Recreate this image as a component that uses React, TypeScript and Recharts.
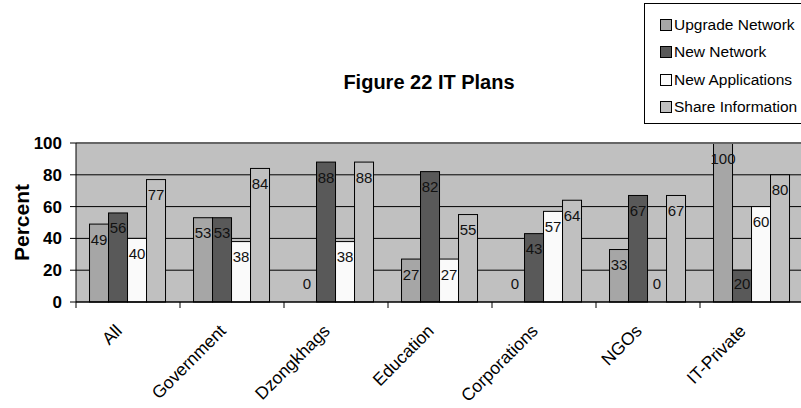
import React from 'react';
import { BarChart, Bar, XAxis, YAxis, CartesianGrid, ReferenceLine } from 'recharts';

const categories = ['All', 'Government', 'Dzongkhags', 'Education', 'Corporations', 'NGOs', 'IT-Private'];
const upgradeNetwork = [49, 53, 0, 27, 0, 33, 100];
const newNetwork = [56, 53, 88, 82, 43, 67, 20];
const newApplications = [40, 38, 38, 27, 57, 0, 60];
const shareInformation = [77, 84, 88, 55, 64, 67, 80];
const yTicks = [0, 20, 40, 60, 80, 100];

const FONT = 'Arial, "Liberation Sans", sans-serif';

const series = [
  { key: 'upgrade', name: 'Upgrade Network', values: upgradeNetwork, fill: '#a6a6a6' },
  { key: 'newNet', name: 'New Network', values: newNetwork, fill: '#595959' },
  { key: 'newApps', name: 'New Applications', values: newApplications, fill: '#fafafa' },
  { key: 'share', name: 'Share Information', values: shareInformation, fill: '#c0c0c0' },
];

const chartData = categories.map((name, i) => {
  const row: Record<string, any> = { name };
  series.forEach(s => { row[s.key] = s.values[i]; });
  return row;
});

const PLOT_LEFT = 76;
const PLOT_RIGHT = 804;
const HALF_BAND = (PLOT_RIGHT - PLOT_LEFT) / categories.length / 2;

const CategoryTick = (props: any) => {
  const { x, y, payload } = props;
  return (
    <g>
      <line x1={x - HALF_BAND} x2={x - HALF_BAND} y1={y} y2={y + 6} stroke="#000" />
      <text
        transform={`translate(${x - 5},${y + 30}) rotate(-45)`}
        textAnchor="end"
        fontSize={17.5}
        fontFamily={FONT}
        fill="#000"
      >
        {payload.value}
      </text>
    </g>
  );
};

// bar rect plus its value; value sits just under the bar top, zero bars keep it above the baseline
const BarWithValue = (props: any) => {
  const { x, y, width, height, fill, value } = props;
  const cy = Math.min(y + 15, y + height - 19);
  return (
    <g>
      {height > 0 && <rect x={x} y={y} width={width} height={height} fill={fill} stroke="#000" strokeWidth={1} />}
      <text x={x + width / 2} y={cy} textAnchor="middle" dominantBaseline="central" fontSize={15} fontFamily={FONT} fill="#111">
        {value}
      </text>
    </g>
  );
};

const PercentLabel = (props: any) => {
  const { viewBox } = props;
  const cx = viewBox.x + 21;
  const cy = viewBox.y + viewBox.height / 2;
  return (
    <text
      transform={`translate(${cx},${cy}) rotate(-90)`}
      textAnchor="middle"
      dominantBaseline="central"
      fontSize={21}
      fontWeight="bold"
      fontFamily={FONT}
      fill="#000"
    >
      Percent
    </text>
  );
};

const LegendBox = () => (
  <div
    style={{
      position: 'absolute',
      left: 644,
      top: 3,
      width: 170,
      height: 121,
      border: '1px solid #000',
      background: '#fff',
      boxSizing: 'border-box',
      paddingTop: 7,
      fontFamily: FONT,
      fontSize: 15.5,
    }}
  >
    {series.map(s => (
      <div key={s.key} style={{ display: 'flex', alignItems: 'center', height: 27.5, paddingLeft: 15 }}>
        <span style={{ width: 10, height: 10, background: s.fill, border: '1px solid #000', marginRight: 2, flexShrink: 0 }} />
        <span style={{ whiteSpace: 'nowrap' }}>{s.name}</span>
      </div>
    ))}
  </div>
);

export default function App() {
  return (
    <div style={{ position: 'absolute', left: 0, top: 0, width: 801, height: 408, background: '#fff', overflow: 'hidden' }}>
      <div
        style={{
          position: 'absolute',
          left: 329,
          top: 71,
          width: 200,
          textAlign: 'center',
          fontFamily: FONT,
          fontSize: 20,
          fontWeight: 'bold',
        }}
      >
        Figure 22 IT Plans
      </div>
      <BarChart
        width={801}
        height={408}
        data={chartData}
        margin={{ top: 143, right: -3, bottom: 0, left: 0 }}
        barCategoryGap="13%"
        barGap={0}
      >
        <CartesianGrid
          horizontal
          vertical={false}
          fill="#c0c0c0"
          fillOpacity={1}
          stroke="#000"
          horizontalValues={[20, 40, 60, 80]}
        />
        <ReferenceLine y={100} stroke="#666" strokeWidth={2} />
        <XAxis
          dataKey="name"
          interval={0}
          height={106}
          tick={<CategoryTick />}
          tickLine={false}
          tickSize={0}
          tickMargin={0}
          axisLine={{ stroke: '#000', strokeWidth: 1.5 }}
        />
        <YAxis
          width={76}
          domain={[0, 100]}
          ticks={yTicks}
          interval={0}
          tickSize={6}
          tickMargin={8}
          tickLine={{ stroke: '#000' }}
          axisLine={{ stroke: '#000' }}
          tick={{ fill: '#000', fontSize: 17, fontWeight: 'bold', fontFamily: FONT }}
          label={<PercentLabel />}
        />
        {series.map(s => (
          <Bar
            key={s.key}
            dataKey={s.key}
            name={s.name}
            fill={s.fill}
            stroke="#000"
            strokeWidth={1}
            isAnimationActive={false}
            shape={(p: any) => <BarWithValue {...p} value={p.payload[s.key]} fill={s.fill} />}
          />
        ))}
      </BarChart>
      <LegendBox />
    </div>
  );
}
